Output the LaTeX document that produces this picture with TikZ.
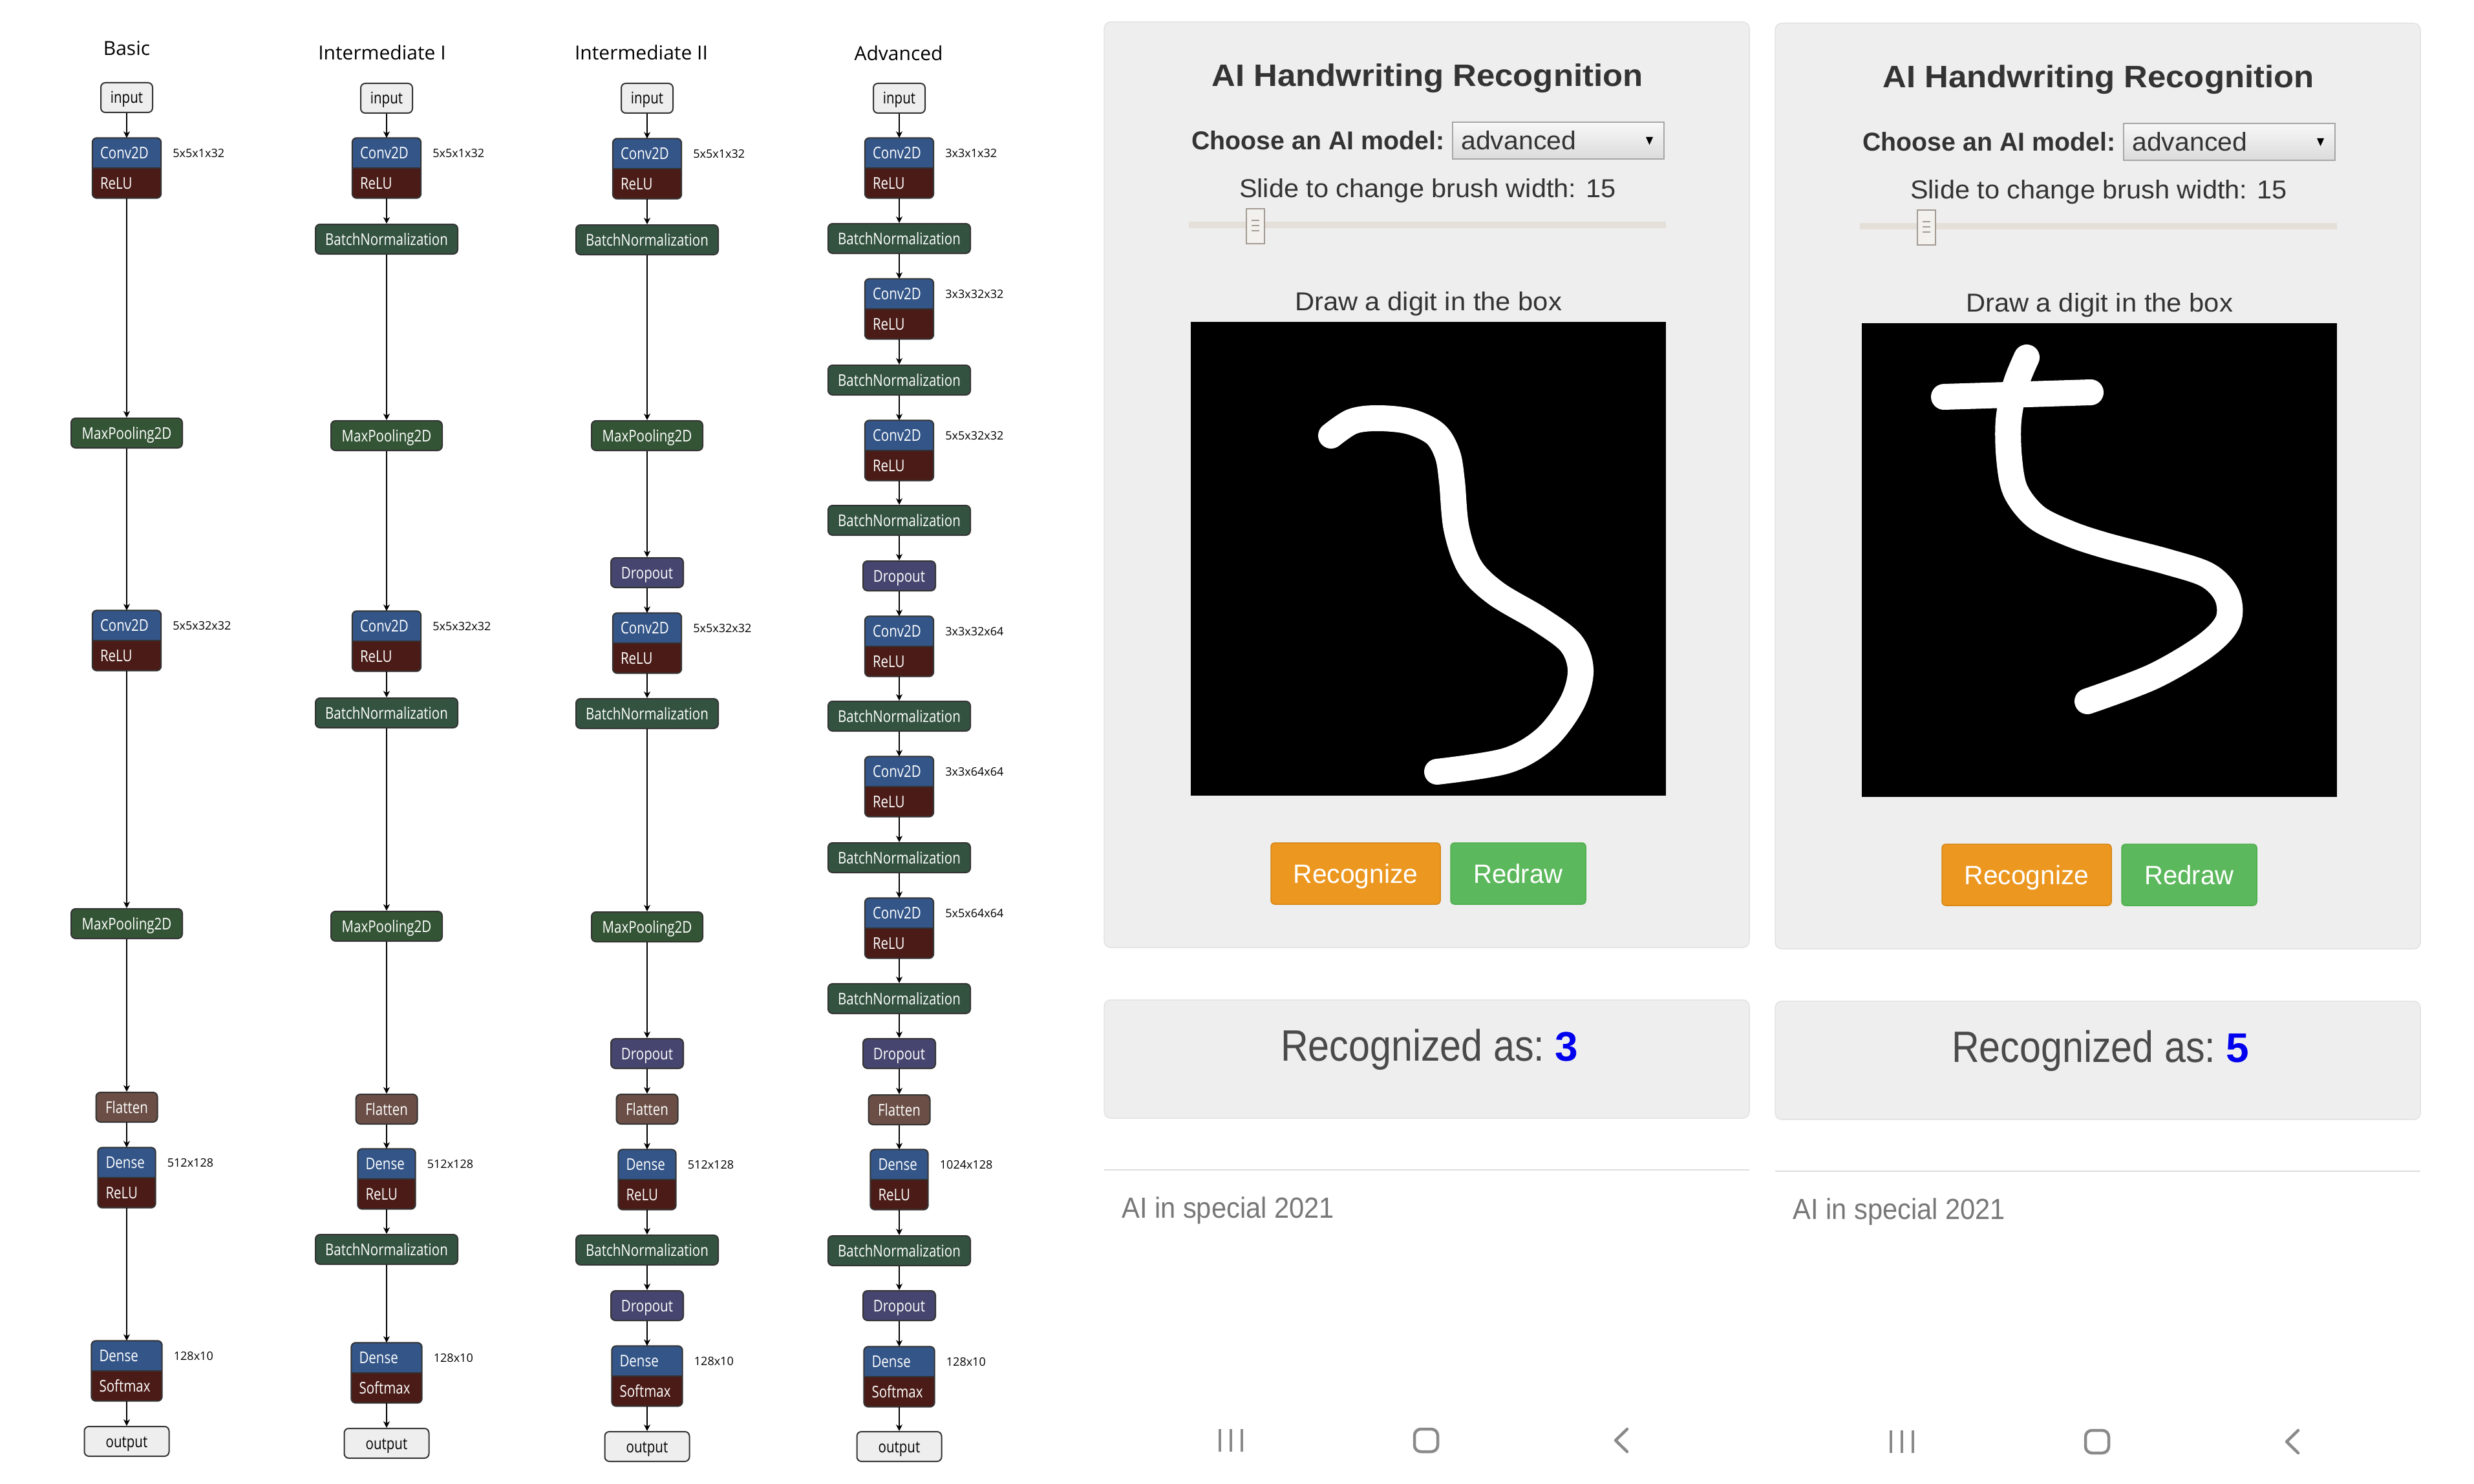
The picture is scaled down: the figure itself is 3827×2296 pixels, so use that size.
\documentclass[tikz,border=0pt]{standalone}
\usepackage{fontspec}
\usetikzlibrary{arrows.meta,calc}
\newfontfamily\netfont[FakeStretch=0.82]{Open Sans}
\newfontfamily\lblfont{Open Sans}
\newfontfamily\uifont{Liberation Sans}
% squeeze or stretch a text horizontally to a given width, keeping its height
\newcommand\fitw[2]{\resizebox{#1}{\height}{#2}}

\definecolor{laycol}{HTML}{335588}
\definecolor{actcol}{HTML}{4B1C17}
\definecolor{bncol}{HTML}{335340}
\definecolor{mpcol}{HTML}{345535}
\definecolor{dropcol}{HTML}{45456F}
\definecolor{flatcol}{HTML}{6B4F46}
\definecolor{iofill}{HTML}{EEEEEE}
\definecolor{nodeline}{HTML}{333333}
\definecolor{cardbg}{HTML}{EEEEEE}
\definecolor{cardline}{HTML}{E2E2E2}
\definecolor{uitext}{HTML}{333333}
\definecolor{resulttext}{HTML}{4A4A4A}
\definecolor{ddline}{HTML}{A6A6A6}
\definecolor{track}{HTML}{E4DFD9}
\definecolor{thumbfill}{HTML}{F3F1EE}
\definecolor{thumbline}{HTML}{A39B93}
\definecolor{btnorange}{HTML}{EC971F}
\definecolor{btnorangeline}{HTML}{D58512}
\definecolor{btngreen}{HTML}{5CB85C}
\definecolor{btngreenline}{HTML}{4CAE4C}
\definecolor{answer}{HTML}{0000EE}
\definecolor{sepline}{HTML}{DDDDDD}
\definecolor{foottext}{HTML}{777777}
\definecolor{navgrey}{HTML}{8A8A8A}

\tikzset{
  net/.style={font=\netfont\fontsize{25bp}{30bp}\selectfont, text height=20bp, text depth=2bp, inner sep=0pt},
  layer/.style={net, draw=nodeline, line width=2bp, rounded corners=7bp, minimum height=46bp, text=white},
  inp/.style={layer, fill=iofill, text=black, minimum width=80bp},
  outp/.style={layer, fill=iofill, text=black, minimum width=131bp},
  bn/.style={layer, fill=bncol, minimum width=220bp},
  mp/.style={layer, fill=mpcol, minimum width=172bp},
  drop/.style={layer, fill=dropcol, minimum width=112bp},
  flat/.style={layer, fill=flatcol, minimum width=95bp},
  pair/.style={minimum height=93bp, inner sep=0pt},
  dims/.style={font=\lblfont\fontsize{18bp}{22bp}\selectfont, inner sep=0pt, anchor=west},
  coltitle/.style={font=\lblfont\fontsize{30bp}{36bp}\selectfont, inner sep=0pt, anchor=base},
  edge/.style={line width=2.7bp, -{Stealth[length=10bp,width=10bp,inset=3bp]}},
  uitxt/.style={anchor=base, inner sep=0pt, text=uitext},
  btn/.style={line width=1.5bp, rounded corners=6bp, minimum height=95bp, inner sep=0pt, text=white,
              font=\uifont\fontsize{41bp}{48bp}\selectfont, text height=30bp, text depth=0bp},
  ink/.style={white, line width=40bp, line cap=round, line join=round},
}

% layer with activation: name, x, y, width, layer, activation, weight shape
\newcommand\pairbox[7]{%
  \node[pair, minimum width=#4bp] (#1) at (#2,#3) {};
  \begin{scope}
    \clip[rounded corners=7bp] (#1.south west) rectangle (#1.north east);
    \fill[actcol] (#1.south west) rectangle (#1.north east);
    \fill[laycol] (#1.west) rectangle (#1.north east);
  \end{scope}
  \draw[nodeline, line width=1.2bp] (#1.west) -- (#1.east);
  \draw[nodeline, line width=2bp, rounded corners=7bp] (#1.south west) rectangle (#1.north east);
  \node[net, text=white, anchor=west] (#1-top) at ($(#1.north west)!0.25!(#1.south west)+(12,0)$) {#5};
  \node[net, text=white, anchor=west] (#1-act) at ($(#1.north west)!0.75!(#1.south west)+(12,0)$) {#6};
  \node[dims] (#1-dim) at ($(#1.north east)!0.25!(#1.south east)+(18,0)$) {#7};
}

% app screen: name prefix, shift x, shift y, recognised digit
\newcommand\phonepanel[4]{%
\begin{scope}[shift={(#2,#3)}]
  \filldraw[fill=cardbg, draw=cardline, line width=1.5bp, rounded corners=10bp] (1708,34) rectangle (2706,1466);
  \node[uitxt, font=\uifont\bfseries\fontsize{48bp}{56bp}\selectfont] (#1title) at (2208,134)
    {\fitw{667bp}{AI Handwriting Recognition}};
  \node[uitxt, anchor=base west, font=\uifont\bfseries\fontsize{40bp}{46bp}\selectfont] (#1choose) at (1843,232)
    {\fitw{391bp}{Choose an AI model:}};
  \node[draw=ddline, line width=1.5bp, top color=white!97!black, bottom color=white!86!black,
        minimum width=327bp, minimum height=57bp, inner sep=0pt] (#1menu) at (2410.5,217.5) {};
  \node[uitxt, anchor=base west, font=\uifont\fontsize{40bp}{46bp}\selectfont] (#1model) at (2260,232)
    {\fitw{178bp}{advanced}};
  \fill[black] (2546,212) -- (2557,212) -- (2551.5,224) -- cycle;
  \node[uitxt, font=\uifont\fontsize{40bp}{46bp}\selectfont] (#1slide) at (2208.5,305)
    {\fitw{583bp}{Slide to change brush width: 15}};
  \fill[track] (1839,343) rectangle (2577,353);
  \filldraw[fill=thumbfill, draw=thumbline, line width=2bp] (1928,323) rectangle (1956,377);
  \foreach \yy in {341,349,357} \draw[thumbline, line width=2.5bp] (1936,\yy) -- (1948,\yy);
  \node[uitxt, font=\uifont\fontsize{40bp}{46bp}\selectfont] (#1draw) at (2209.5,480)
    {\fitw{413bp}{Draw a digit in the box}};
  \fill[black] (1842,498) rectangle (2577,1231);
  \node[btn, fill=btnorange, draw=btnorangeline, minimum width=262bp] (#1recognize) at (2097,1351.5)
    {\fitw{193bp}{Recognize}};
  \node[btn, fill=btngreen, draw=btngreenline, minimum width=209bp] (#1redraw) at (2348.5,1351.5)
    {\fitw{138bp}{Redraw}};
  \filldraw[fill=cardbg, draw=cardline, line width=1.5bp, rounded corners=10bp] (1708,1547) rectangle (2706,1730);
  \node[uitxt, anchor=base west, text=resulttext, font=\uifont\fontsize{68bp}{80bp}\selectfont] (#1result) at (1981,1641)
    {\fitw{408bp}{Recognized as:}\hspace{16bp}{\bfseries\fontsize{64bp}{76bp}\selectfont\color{answer}#4}};
  \draw[sepline, line width=2bp] (1708,1810) -- (2706,1810);
  \node[uitxt, anchor=base west, text=foottext, font=\uifont\fontsize{45bp}{54bp}\selectfont] (#1foot) at (1735,1884)
    {\fitw{329bp}{AI in special 2021}};
  \foreach \xx in {1887,1904,1921} \draw[navgrey, line width=4.5bp] (\xx,2211) -- (\xx,2246);
  \draw[navgrey, line width=4.5bp, rounded corners=10bp] (2188,2211) rectangle (2224,2246);
  \draw[navgrey, line width=4.5bp, line cap=round, line join=round] (2517,2211) -- (2499,2228.5) -- (2517,2246);
\end{scope}}

\begin{document}
\begin{tikzpicture}[x=1bp, y=-1bp]
\fill[white] (0,0) rectangle (3827,2296);
\useasboundingbox (0,0) rectangle (3827,2296);

% ---------------- Basic ----------------
\node[coltitle] (tB) at (196,86) {Basic};
\node[inp] (B0) at (196,151) {input};
\pairbox{B1}{196}{260}{106}{Conv2D}{ReLU}{5x5x1x32}
\node[mp] (B2) at (196,670) {MaxPooling2D};
\pairbox{B3}{196}{991}{106}{Conv2D}{ReLU}{5x5x32x32}
\node[mp] (B4) at (196,1429) {MaxPooling2D};
\node[flat] (B5) at (196,1713) {Flatten};
\pairbox{B6}{196}{1822}{89}{Dense}{ReLU}{512x128}
\pairbox{B7}{196}{2121}{109}{Dense}{Softmax}{128x10}
\node[outp] (B8) at (196,2230) {output};
\foreach \i [evaluate=\i as \j using int(\i+1)] in {0,...,7} \draw[edge] (B\i) -- (B\j);

% ---------------- Intermediate I ----------------
\node[coltitle] (tI) at (591,93) {Intermediate I};
\node[inp] (I0) at (598,152) {input};
\pairbox{I1}{598}{260}{106}{Conv2D}{ReLU}{5x5x1x32}
\node[bn] (I2) at (598,370) {BatchNormalization};
\node[mp] (I3) at (598,674) {MaxPooling2D};
\pairbox{I4}{598}{992}{106}{Conv2D}{ReLU}{5x5x32x32}
\node[bn] (I5) at (598,1103) {BatchNormalization};
\node[mp] (I6) at (598,1433) {MaxPooling2D};
\node[flat] (I7) at (598,1716) {Flatten};
\pairbox{I8}{598}{1824}{89}{Dense}{ReLU}{512x128}
\node[bn] (I9) at (598,1933) {BatchNormalization};
\pairbox{I10}{598}{2124}{109}{Dense}{Softmax}{128x10}
\node[outp] (I11) at (598,2233) {output};
\foreach \i [evaluate=\i as \j using int(\i+1)] in {0,...,10} \draw[edge] (I\i) -- (I\j);

% ---------------- Intermediate II ----------------
\node[coltitle] (tJ) at (992,93) {Intermediate II};
\node[inp] (J0) at (1001,152) {input};
\pairbox{J1}{1001}{261}{106}{Conv2D}{ReLU}{5x5x1x32}
\node[bn] (J2) at (1001,371) {BatchNormalization};
\node[mp] (J3) at (1001,674) {MaxPooling2D};
\node[drop] (J4) at (1001,886) {Dropout};
\pairbox{J5}{1001}{995}{106}{Conv2D}{ReLU}{5x5x32x32}
\node[bn] (J6) at (1001,1104) {BatchNormalization};
\node[mp] (J7) at (1001,1434) {MaxPooling2D};
\node[drop] (J8) at (1001,1630) {Dropout};
\node[flat] (J9) at (1001,1716) {Flatten};
\pairbox{J10}{1001}{1825}{89}{Dense}{ReLU}{512x128}
\node[bn] (J11) at (1001,1934) {BatchNormalization};
\node[drop] (J12) at (1001,2020) {Dropout};
\pairbox{J13}{1001}{2129}{109}{Dense}{Softmax}{128x10}
\node[outp] (J14) at (1001,2238) {output};
\foreach \i [evaluate=\i as \j using int(\i+1)] in {0,...,13} \draw[edge] (J\i) -- (J\j);

% ---------------- Advanced ----------------
\node[coltitle] (tA) at (1390,94) {Advanced};
\node[inp] (A0) at (1391,152) {input};
\pairbox{A1}{1391}{260}{106}{Conv2D}{ReLU}{3x3x1x32}
\node[bn] (A2) at (1391,369) {BatchNormalization};
\pairbox{A3}{1391}{478}{106}{Conv2D}{ReLU}{3x3x32x32}
\node[bn] (A4) at (1391,588) {BatchNormalization};
\pairbox{A5}{1391}{697}{106}{Conv2D}{ReLU}{5x5x32x32}
\node[bn] (A6) at (1391,805) {BatchNormalization};
\node[drop] (A7) at (1391,891) {Dropout};
\pairbox{A8}{1391}{1000}{106}{Conv2D}{ReLU}{3x3x32x64}
\node[bn] (A9) at (1391,1108) {BatchNormalization};
\pairbox{A10}{1391}{1217}{106}{Conv2D}{ReLU}{3x3x64x64}
\node[bn] (A11) at (1391,1327) {BatchNormalization};
\pairbox{A12}{1391}{1436}{106}{Conv2D}{ReLU}{5x5x64x64}
\node[bn] (A13) at (1391,1545) {BatchNormalization};
\node[drop] (A14) at (1391,1630) {Dropout};
\node[flat] (A15) at (1391,1717) {Flatten};
\pairbox{A16}{1391}{1825}{89}{Dense}{ReLU}{1024x128}
\node[bn] (A17) at (1391,1935) {BatchNormalization};
\node[drop] (A18) at (1391,2020) {Dropout};
\pairbox{A19}{1391}{2130}{109}{Dense}{Softmax}{128x10}
\node[outp] (A20) at (1391,2238) {output};
\foreach \i [evaluate=\i as \j using int(\i+1)] in {0,...,19} \draw[edge] (A\i) -- (A\j);

% ---------------- app screens ----------------
\phonepanel{p}{0}{0}{3}
\phonepanel{q}{1038}{2}{5}

% handwritten three
\draw[ink] plot[smooth, tension=0.55] coordinates {
  (2059,674) (2092,652) (2131,647) (2180,652) (2220,671) (2239,703) (2246,745)
  (2253,818) (2274,878) (2314,918) (2381,958) (2430,995) (2445,1037) (2432,1087)
  (2391,1142) (2330,1177) (2223,1194)};

% handwritten five
\draw[ink] (3007,614) -- (3234,607);
\draw[ink] plot[smooth, tension=0.55] coordinates {
  (3135,553) (3118,595) (3107,650) (3108,710) (3118,760) (3150,800) (3200,825)
  (3257,844) (3352,869) (3415,890) (3445,922) (3446,962) (3410,1000) (3330,1047) (3229,1085)};
\end{tikzpicture}
\end{document}
